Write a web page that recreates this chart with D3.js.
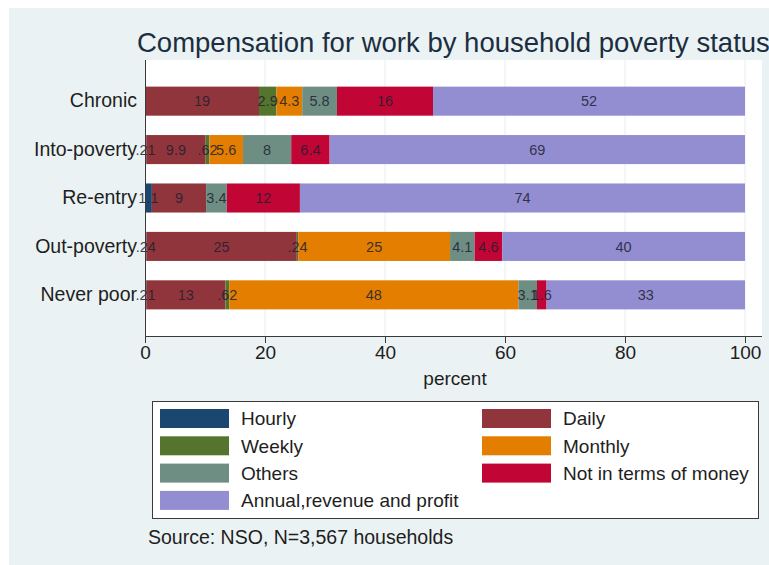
<!DOCTYPE html>
<html>
<head>
<meta charset="utf-8">
<script src="https://cdn.jsdelivr.net/npm/d3@7"></script>
<style>
  html, body { margin: 0; padding: 0; background: #ffffff; }
  svg { display: block; font-family: "Liberation Sans", Arial, Helvetica, sans-serif; }
</style>
</head>
<body>
<svg id="chart" width="769" height="565"></svg>
<script>
// Household categories (top to bottom)
const categories = ["Chronic", "Into-poverty", "Re-entry", "Out-poverty", "Never poor"];

// Share of households (percent) by compensation type
const hourly   = [0,    0.21,  1.14,  0.24,  0.21];
const daily    = [19,   9.9,   9.04,  25.06, 13.2];
const weekly   = [2.9,  0.62,  0,     0.24,  0.62];
const monthly  = [4.3,  5.6,   0,     25.3,  48.2];
const others   = [5.8,  8.04,  3.44,  4.1,   3.1];
const notMoney = [16,   6.4,   12.2,  4.6,   1.6];
const annual   = [52,   69.23, 74.18, 40.46, 33.07];

const seriesNames = ["Hourly", "Daily", "Weekly", "Monthly", "Others",
                     "Not in terms of money", "Annual,revenue and profit"];
const seriesValues = [hourly, daily, weekly, monthly, others, notMoney, annual];
const seriesColors = ["#1a476f", "#90353b", "#55752f", "#e37e00", "#6e8e84", "#c10534", "#938dd2"];

const xTicks = [0, 20, 40, 60, 80, 100];

const svg = d3.select("#chart");
const textColor = "#1e1e1e";

// Graph region
svg.append("rect").attr("x", 9).attr("y", 8).attr("width", 760).attr("height", 557)
  .attr("fill", "#eaf2f3");

// Plot region
const plot = { left: 145, right: 762, top: 60, bottom: 336 };
svg.append("rect")
  .attr("x", plot.left).attr("y", plot.top)
  .attr("width", plot.right - plot.left).attr("height", plot.bottom - plot.top)
  .attr("fill", "#ffffff");

const x = d3.scaleLinear().domain([0, 100]).range([145, 745]);
const y = d3.scaleBand().domain(categories).range([plot.top, plot.bottom])
  .paddingInner(0.4).paddingOuter(0.55);

// Grid lines
svg.append("g").selectAll("line").data(xTicks.filter(t => t > 0)).join("line")
  .attr("x1", d => x(d)).attr("x2", d => x(d))
  .attr("y1", plot.top).attr("y2", plot.bottom)
  .attr("stroke", "#e8eeee").attr("stroke-width", 1);

// Stack data
const rows = categories.map((c, i) => {
  const r = { category: c };
  seriesNames.forEach((s, j) => { r[s] = seriesValues[j][i]; });
  return r;
});
const stacked = d3.stack().keys(seriesNames)(rows);

// Two significant digits, no leading zero
const fmt = v => d3.format(".2~g")(v).replace(/^0\./, ".");

const layers = svg.append("g").selectAll("g").data(stacked).join("g")
  .attr("fill", (d, i) => seriesColors[i]);

layers.selectAll("rect").data(d => d).join("rect")
  .attr("x", d => x(d[0]))
  .attr("width", d => Math.max(0, x(d[1]) - x(d[0])))
  .attr("y", d => y(d.data.category))
  .attr("height", y.bandwidth());

// Value labels at the centre of each segment
const labelG = svg.append("g");
stacked.forEach(layer => {
  layer.forEach(d => {
    const v = d[1] - d[0];
    if (v <= 0) return;
    labelG.append("text")
      .attr("x", x((d[0] + d[1]) / 2))
      .attr("y", y(d.data.category) + y.bandwidth() / 2)
      .attr("dy", "0.36em")
      .attr("text-anchor", "middle")
      .attr("font-size", 14.5)
      .attr("fill", "#202030")
      .attr("fill-opacity", 0.85)
      .text(fmt(d.data[layer.key]));
  });
});

// Axes
const xAxis = svg.append("g").attr("transform", `translate(0,${plot.bottom})`)
  .call(d3.axisBottom(x).tickValues(xTicks).tickSize(7).tickPadding(3).tickFormat(d3.format("d")));
xAxis.select(".domain").attr("d", `M${plot.left},0.5H${plot.right}`).attr("stroke", "#3a3a3a");
xAxis.selectAll(".tick line").attr("stroke", "#3a3a3a");
xAxis.selectAll(".tick text").attr("font-size", 19).attr("fill", textColor)
  .attr("font-family", "'Liberation Sans', Arial, sans-serif");

const yAxis = svg.append("g").attr("transform", `translate(${plot.left},0)`)
  .call(d3.axisLeft(y).tickSize(0).tickPadding(8));
yAxis.select(".domain").attr("d", `M0.5,${plot.top}V${plot.bottom}`).attr("stroke", "#3a3a3a");
yAxis.selectAll(".tick text").attr("font-size", 19.5).attr("fill", textColor)
  .attr("font-family", "'Liberation Sans', Arial, sans-serif");

// Axis title
svg.append("text").attr("x", 455).attr("y", 378).attr("dy", "0.36em").attr("text-anchor", "middle")
  .attr("font-size", 19).attr("fill", textColor).text("percent");

// Chart title
svg.append("text").attr("x", 137).attr("y", 52)
  .attr("font-size", 27.5).attr("fill", "#1c2e40")
  .text("Compensation for work by household poverty status");

// Legend
const legend = svg.append("g");
legend.append("rect").attr("x", 152.5).attr("y", 401.5).attr("width", 606).attr("height", 117)
  .attr("fill", "#ffffff").attr("stroke", "#3a3a3a").attr("stroke-width", 1);

seriesNames.forEach((name, k) => {
  const col = k % 2;
  const row = Math.floor(k / 2);
  const sx = col === 0 ? 160 : 482;
  const cy = 418.5 + row * 27.3;
  legend.append("rect").attr("x", sx).attr("y", cy - 9.5).attr("width", 69).attr("height", 19)
    .attr("fill", seriesColors[k]);
  legend.append("text").attr("x", sx + 81).attr("y", cy).attr("dy", "0.36em")
    .attr("font-size", 19).attr("fill", textColor).text(name);
});

// Note
svg.append("text").attr("x", 148).attr("y", 537).attr("dy", "0.36em")
  .attr("font-size", 19.5).attr("fill", textColor).text("Source: NSO, N=3,567 households");
</script>
</body>
</html>
